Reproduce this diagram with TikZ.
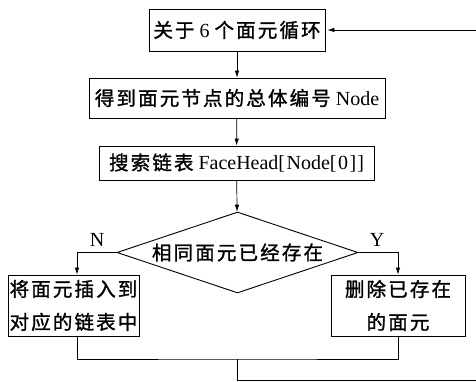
\documentclass[tikz,border=0pt]{standalone}
\usepackage{fontspec}
\setmainfont{Liberation Serif}
\newfontfamily\cjkfam{Noto Sans CJK SC}[LetterSpace=11,FakeBold=1.3]
\newcommand{\zh}[1]{{\fontsize{19.5}{33}\cjkfam #1}}
\usetikzlibrary{shapes.geometric,arrows.meta}
\begin{document}
\begin{tikzpicture}[x=1pt,y=-1pt,
  font=\fontsize{20}{33}\selectfont,
  box/.style={draw,line width=0.9pt,inner sep=0pt,align=center},
  arr/.style={-{Latex[length=7pt,width=4.5pt]},line width=0.7pt},
  ln/.style={line width=0.7pt}]
\useasboundingbox (0,0) rectangle (476,382);
\clip (0,0) rectangle (476,382);
\node[box,minimum width=176pt,minimum height=42pt] (b1) at (237,30) {\zh{关于} 6 \zh{个面元循环}};
\node[box,minimum width=296pt,minimum height=40pt] (b2) at (237,98) {\zh{得到面元节点的总体编号} Node};
\node[box,minimum width=275pt,minimum height=34pt] (b3) at (236.5,163) {\zh{搜索链表} FaceHead[\kern1.5pt Node[\kern1.5pt 0\kern1.5pt]\kern1pt]};
\node[draw,diamond,aspect=2.98,minimum width=241pt,minimum height=81pt,inner sep=0pt,line width=0.9pt] (d) at (237.5,252.5) {\zh{相同面元已经存在}};
\node[box,minimum width=131pt,minimum height=61pt] (lb) at (73.5,305.5) {\zh{将面元插入到}\\\zh{对应的链表中}};
\node[box,minimum width=134pt,minimum height=61pt] (rb) at (398,305.5) {\zh{删除已存在}\\\zh{的面元}};
\node (nl) at (97,240) {N};
\node (yl) at (377,240) {Y};
\coordinate (jn) at (237,359);
\coordinate (c1) at (482,380);
\draw[arr] (b1) -- (b2);
\draw[arr] (b2) -- (b3);
\draw[arr] (b3) -- (d);
\draw[arr] (d.west) -| ([xshift=3.5pt]lb.north);
\draw[arr] (d.east) -| (rb.north);
\draw[ln] ([xshift=3.5pt]lb.south) |- (jn) -| (rb.south);
\draw[arr,shorten >=2pt] (jn) |- (c1) |- (b1.east);
\end{tikzpicture}
\end{document}
